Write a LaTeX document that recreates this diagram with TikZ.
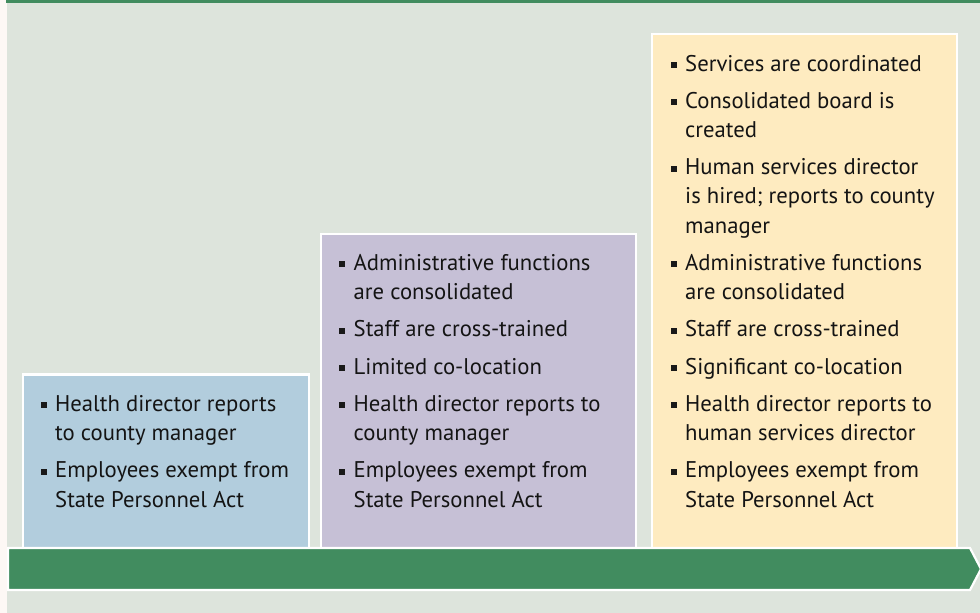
\documentclass[tikz,border=0pt]{standalone}
\usepackage{fontspec}
\setmainfont{PT Sans}
\definecolor{bgpanel}{HTML}{DDE4DC}
\definecolor{edgestrip}{HTML}{FDF8F5}
\definecolor{bargreen}{HTML}{418C5F}
\definecolor{stageblue}{HTML}{B2CDDD}
\definecolor{stagepurple}{HTML}{C6C0D6}
\definecolor{stageyellow}{HTML}{FEEBC0}
\newcommand{\itemfont}{\fontsize{22.7}{29.1}\selectfont}
\tikzset{
  stagebox/.style={draw=white, line width=2.4pt},
  % anchored on the baseline of the last line of each item
  itemtext/.style={anchor=base west, inner sep=0pt, align=left, font=\itemfont, text=black!92},
  bul/.style={fill=black!90, minimum size=6pt, inner sep=0pt, outer sep=0pt},
}
\begin{document}
\begin{tikzpicture}[x=1pt, y=-1pt]
  \useasboundingbox (0,0) rectangle (980,613);
  % page background
  \fill[edgestrip] (0,0) rectangle (7,613);
  \fill[bgpanel] (7,0) rectangle (980,613);
  \fill[bargreen] (6,0) rectangle (980,3);

  % three stages
  \draw[stagebox, fill=stageblue]   (23.2,374.5) rectangle (308.8,560);
  \draw[stagebox, fill=stagepurple] (321.2,234.0) rectangle (636.0,560);
  \draw[stagebox, fill=stageyellow] (652.2,34.2)  rectangle (956.8,560);

  % progression arrow
  \draw[draw=white, line width=2.2pt, fill=bargreen, line join=miter]
    (8,548) -- (970,548) -- (981,569) -- (970,590) -- (8,590) -- cycle;

  % stage 1 items
  \node[itemtext] (s1a) at (55,440.6) {Health director reports\\to county manager};
  \node[itemtext] (s1b) at (55,507.05) {Employees exempt from\\State Personnel Act};

  % stage 2 items
  \node[itemtext] (s2a) at (353.5,299.45) {Administrative functions\\are consolidated};
  \node[itemtext] (s2b) at (353.5,336.8) {Staff are cross-trained};
  \node[itemtext] (s2c) at (353.5,374.15) {Limited co-location};
  \node[itemtext] (s2d) at (353.5,440.6) {Health director reports to\\county manager};
  \node[itemtext] (s2e) at (353.5,507.05) {Employees exempt from\\State Personnel Act};

  % stage 3 items
  \node[itemtext] (s3a) at (685,71) {Services are coordinated};
  \node[itemtext] (s3b) at (685,137.45) {Consolidated board is\\created};
  \node[itemtext] (s3c) at (685,233.0) {Human services director\\is hired; reports to county\\manager};
  \node[itemtext] (s3d) at (685,299.45) {Administrative functions\\are consolidated};
  \node[itemtext] (s3e) at (685,336.8) {Staff are cross-trained};
  \node[itemtext] (s3f) at (685,374.15) {Significant co-location};
  \node[itemtext] (s3g) at (685,440.6) {Health director reports to\\human services director};
  \node[itemtext] (s3h) at (685,507.05) {Employees exempt from\\State Personnel Act};

  % bullets, on the first line of each item
  \foreach \nm/\bx/\by in {q1a/55/411.5, q1b/55/477.95,
      q2a/353.5/270.35, q2b/353.5/336.8, q2c/353.5/374.15, q2d/353.5/411.5, q2e/353.5/477.95,
      q3a/685/71, q3b/685/108.35, q3c/685/174.8, q3d/685/270.35, q3e/685/336.8,
      q3f/685/374.15, q3g/685/411.5, q3h/685/477.95}
    \node[bul] (\nm) at (\bx-11.2,\by-6.3) {};
\end{tikzpicture}
\end{document}
